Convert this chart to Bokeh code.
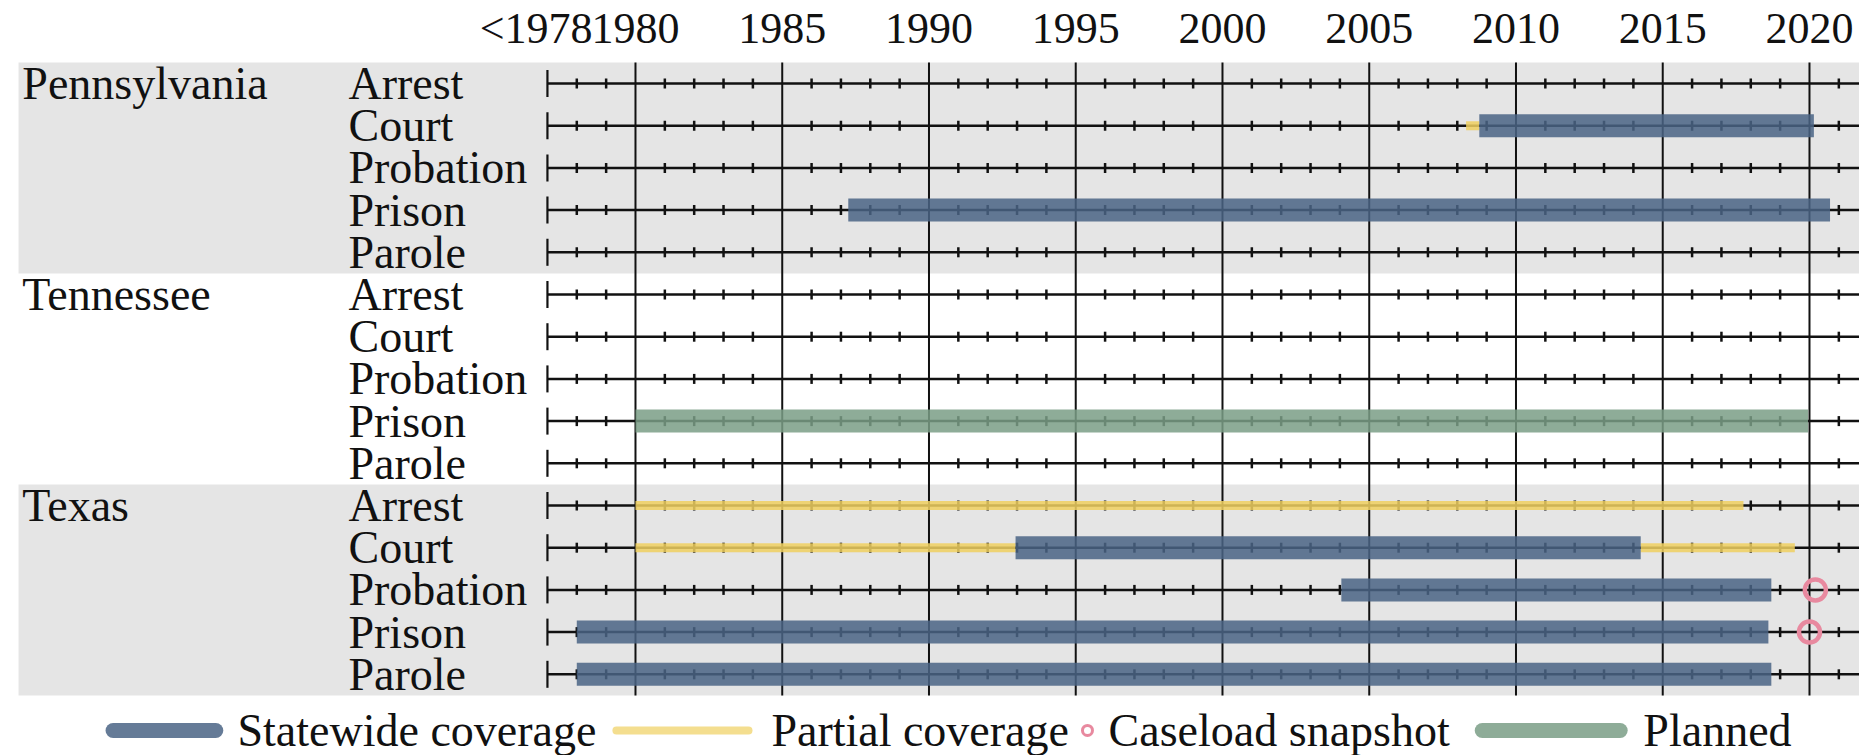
import numpy as np
from bokeh.plotting import figure
from bokeh.models import Range1d
from bokeh.core.properties import value
from bokeh.embed import file_html
from bokeh.resources import INLINE

# ---------------- data ----------------
states = ["Pennsylvania", "Tennessee", "Texas"]
stages = ["Arrest", "Court", "Probation", "Prison", "Parole"]

statewide_state = ["Pennsylvania", "Pennsylvania", "Texas", "Texas", "Texas", "Texas"]
statewide_stage = ["Court", "Prison", "Court", "Probation", "Prison", "Parole"]
statewide_start = [2008.75, 1987.25, 1992.95, 2004.05, 1978.0, 1978.0]
statewide_end = [2020.15, 2020.7, 2014.25, 2018.7, 2018.6, 2018.7]

partial_state = ["Pennsylvania", "Texas", "Texas", "Texas"]
partial_stage = ["Court", "Arrest", "Court", "Court"]
partial_start = [2008.3, 1980.0, 1980.0, 2014.25]
partial_end = [2008.75, 2017.75, 1992.95, 2019.5]

snapshot_state = ["Texas", "Texas"]
snapshot_stage = ["Probation", "Prison"]
snapshot_year = [2020.2, 2020.0]

planned_state = ["Tennessee"]
planned_stage = ["Prison"]
planned_start = [1980.0]
planned_end = [2019.95]

major_years = [1980, 1985, 1990, 1995, 2000, 2005, 2010, 2015, 2020]
major_labels = ["1980", "1985", "1990", "1995", "2000", "2005", "2010", "2015", "2020"]
first_label = "<1978"
timeline_start = 1977
timeline_end = 2022

legend_labels = ["Statewide coverage", "Partial coverage", "Caseload snapshot", "Planned"]

# ---------------- styling ----------------
FONT = value("Liberation Serif")
FS_LABEL = "46px"
FS_TICK = "44px"
BLUE = "#4a6485"
YELLOW = "#f0d060"
GREEN = "#7a9e86"
PINK = "#e8899f"
BAND = "#e5e5e5"
INK = "#111111"


def row(state, stage):
    return states.index(state) * len(stages) + stages.index(stage)


n_rows = len(states) * len(stages)
rows = list(range(n_rows))

p = figure(width=1859, height=755,
           x_range=Range1d(1958.365, 2021.704),
           y_range=Range1d(15.924, -1.967),
           output_backend="svg", toolbar_location=None,
           x_axis_location=None, y_axis_location=None,
           min_border=0, min_border_left=0, min_border_right=0,
           min_border_top=0, min_border_bottom=0)
p.grid.visible = False
p.outline_line_color = None
p.background_fill_color = "white"
p.border_fill_color = "white"

# alternating bands (Pennsylvania, Texas)
band_idx = [0, 2]
p.quad(left=[1958.98] * len(band_idx), right=[2030] * len(band_idx),
       top=[i * 5 - 0.5 for i in band_idx], bottom=[i * 5 + 4.5 for i in band_idx],
       fill_color=BAND, line_color=None)

# vertical gridlines
p.segment(x0=major_years, x1=major_years, y0=[-0.5] * len(major_years),
          y1=[n_rows - 0.5] * len(major_years), line_color=INK, line_width=2)

# row timelines
p.segment(x0=[timeline_start] * n_rows, x1=[timeline_end] * n_rows,
          y0=rows, y1=rows, line_color=INK, line_width=2.5)

minor_years = [y for y in range(timeline_start + 1, timeline_end) if y not in major_years]
mx = [y for r in rows for y in minor_years]
my = [r for r in rows for y in minor_years]
p.scatter(x=mx, y=my, marker="dash", angle=np.pi / 2, size=10,
          line_color=INK, line_width=2.5)
ex = [x for r in rows for x in (timeline_start, timeline_end)]
ey = [r for r in rows for x in (timeline_start, timeline_end)]
p.scatter(x=ex, y=ey, marker="dash", angle=np.pi / 2, size=27,
          line_color=INK, line_width=2.2)

# coverage bars
pr = [row(s, g) for s, g in zip(partial_state, partial_stage)]
p.segment(x0=partial_start, x1=partial_end, y0=pr, y1=pr,
          line_color=YELLOW, line_width=9, line_alpha=0.85)

sr = [row(s, g) for s, g in zip(statewide_state, statewide_stage)]
p.segment(x0=statewide_start, x1=statewide_end, y0=sr, y1=sr,
          line_color=BLUE, line_width=23, line_alpha=0.85)

gr = [row(s, g) for s, g in zip(planned_state, planned_stage)]
p.segment(x0=planned_start, x1=planned_end, y0=gr, y1=gr,
          line_color=GREEN, line_width=23, line_alpha=0.85)

cr = [row(s, g) for s, g in zip(snapshot_state, snapshot_stage)]
p.scatter(x=snapshot_year, y=cr, marker="circle", size=21,
          fill_color=None, line_color=PINK, line_width=4.5)

# row labels
state_rows = [i * len(stages) for i in range(len(states))]
p.text(x=[1959.11] * len(states), y=state_rows, text=states,
       text_font=FONT, text_font_size=FS_LABEL, text_color=INK,
       text_align="left", text_baseline="middle")
p.text(x=[1970.22] * n_rows, y=rows, text=stages * len(states),
       text_font=FONT, text_font_size=FS_LABEL, text_color=INK,
       text_align="left", text_baseline="middle")

# top tick labels
p.text(x=major_years, y=[-1.3] * len(major_years), text=major_labels,
       text_font=FONT, text_font_size=FS_TICK, text_color=INK,
       text_align="center", text_baseline="middle")
p.text(x=[major_years[0]], y=[-1.3], text=[first_label], x_offset=-43,
       text_font=FONT, text_font_size=FS_TICK, text_color=INK,
       text_align="right", text_baseline="middle")

# legend (drawn manually)
ly = 15.33
p.segment(x0=[1962.2], x1=[1965.7], y0=[ly], y1=[ly], line_color=BLUE,
          line_width=15, line_alpha=0.85, line_cap="round")
p.segment(x0=[1979.35], x1=[1983.85], y0=[ly], y1=[ly], line_color=YELLOW,
          line_width=8, line_alpha=0.7, line_cap="round")
p.scatter(x=[1995.4], y=[ly], marker="circle", size=10, fill_color=None,
          line_color=PINK, line_width=3)
p.segment(x0=[2008.85], x1=[2013.55], y0=[ly], y1=[ly], line_color=GREEN,
          line_width=15, line_alpha=0.85, line_cap="round")
p.text(x=[1966.44, 1984.63, 1996.12, 2014.34], y=[ly] * 4, text=legend_labels,
       text_font=FONT, text_font_size=FS_LABEL, text_color=INK,
       text_align="left", text_baseline="middle")

open("out.html", "w").write(file_html(p, INLINE))
